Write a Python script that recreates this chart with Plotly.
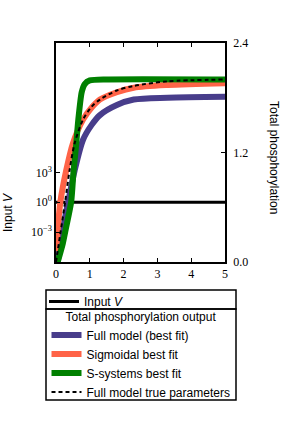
import plotly.graph_objects as go

# ---- data ----
input_t = [0, 5]
input_v = [1, 1]

full_t = [0.05, 0.2, 0.36, 0.55, 0.8, 1.05, 1.3, 1.8, 2.3, 3.3, 5.0]
full_v = [0.0, 0.35, 0.66, 1.0, 1.34, 1.5, 1.61, 1.72, 1.78, 1.80, 1.81]

sig_t = [0.0, 0.13, 0.3, 0.5, 0.8, 1.05, 1.3, 1.8, 2.3, 3.3, 5.0]
sig_v = [0.12, 0.66, 1.0, 1.3, 1.56, 1.69, 1.78, 1.86, 1.91, 1.94, 1.96]

ss_t = [0.05, 0.2, 0.3, 0.45, 0.52, 0.6, 0.66, 0.76, 0.85, 1.0, 1.5, 5.0]
ss_v = [0.0, 0.2, 0.38, 0.66, 1.0, 1.3, 1.56, 1.86, 1.95, 1.99, 2.0, 2.0]

true_t = [0.0, 0.27, 0.4, 0.55, 0.8, 1.05, 1.3, 1.8, 2.3, 3.3, 5.0]
true_v = [0.0, 0.66, 1.0, 1.3, 1.56, 1.70, 1.78, 1.88, 1.93, 1.98, 2.0]

x_ticks = [0, 1, 2, 3, 4, 5]
left_tickvals = [1e-3, 1, 1e3]
left_ticktext = ["10<sup>\u22123</sup>", "10<sup>0</sup>", "10<sup>3</sup>"]
right_tickvals = [0, 1.2, 2.4]
right_ticktext = ["0.0", "1.2", "2.4"]

PURPLE = "#483D8B"
ORANGE = "#FF6347"
GREEN = "#008000"

SANS = "Liberation Sans, Arial, sans-serif"
SERIF = "Liberation Serif, DejaVu Serif, serif"

fig = go.Figure()
fig.add_trace(go.Scatter(x=input_t, y=input_v, mode="lines", name="Input <i>V</i>",
                         line=dict(color="black", width=3), yaxis="y", legend="legend"))
fig.add_trace(go.Scatter(x=full_t, y=full_v, mode="lines", name="Full model (best fit)",
                         line=dict(color=PURPLE, width=6, shape="spline", smoothing=0.8),
                         yaxis="y2", legend="legend2"))
fig.add_trace(go.Scatter(x=sig_t, y=sig_v, mode="lines", name="Sigmoidal best fit",
                         line=dict(color=ORANGE, width=6, shape="spline", smoothing=0.8),
                         yaxis="y2", legend="legend2"))
fig.add_trace(go.Scatter(x=ss_t, y=ss_v, mode="lines", name="S-systems best fit",
                         line=dict(color=GREEN, width=6, shape="spline", smoothing=0.6),
                         yaxis="y2", legend="legend2"))
fig.add_trace(go.Scatter(x=true_t, y=true_v, mode="lines", name="Full model true parameters",
                         line=dict(color="black", width=2, dash="4px,3px", shape="spline", smoothing=0.8),
                         yaxis="y2", legend="legend2"))

# plot area: x 56..225 px, y 43..262 px
W, H = 282, 438
L, R, T, B = 56, 225, 43, 262
pw, ph = R - L, B - T

def px(xp):
    return (xp - L) / pw

def py(yp):
    return (B - yp) / ph

shapes = [
    dict(type="rect", xref="paper", yref="paper", x0=px(46), x1=px(236), y0=py(309), y1=py(290),
         line=dict(color="black", width=1.5)),
    dict(type="rect", xref="paper", yref="paper", x0=px(46), x1=px(236), y0=py(400), y1=py(309),
         line=dict(color="black", width=1.5)),
]

annotations = [
    dict(text="Input <i>V</i>", xref="paper", yref="paper", x=px(8), y=py(213), textangle=-90,
         showarrow=False, font=dict(family=SANS, size=12, color="black"), xanchor="center", yanchor="middle"),
    dict(text="Total phosphorylation", xref="paper", yref="paper", x=px(274), y=py(157), textangle=90,
         showarrow=False, font=dict(family=SANS, size=12, color="black"), xanchor="center", yanchor="middle"),
]

fig.update_layout(
    width=W, height=H,
    margin=dict(l=L, r=W - R, t=T, b=H - B, pad=0, autoexpand=False),
    paper_bgcolor="white", plot_bgcolor="white",
    showlegend=True,
    shapes=shapes, annotations=annotations,
    xaxis=dict(range=[0, 5], tickvals=x_ticks, ticks="inside", ticklen=4, tickwidth=1, tickcolor="black",
               showline=True, linecolor="black", linewidth=1.5, mirror="ticks", showgrid=False, zeroline=False,
               automargin=False, tickfont=dict(family=SERIF, size=12, color="black")),
    yaxis=dict(type="log", range=[-6, 16], tickvals=left_tickvals, ticktext=left_ticktext,
               ticks="inside", ticklen=4, tickwidth=1, tickcolor="black", automargin=False,
               showline=True, linecolor="black", linewidth=1.5, showgrid=False, zeroline=False,
               tickfont=dict(family=SERIF, size=12, color="black")),
    yaxis2=dict(range=[0, 2.4], tickvals=right_tickvals, ticktext=right_ticktext, overlaying="y", side="right",
                ticks="inside", ticklen=4, tickwidth=1, tickcolor="black", automargin=False,
                ticklabelstandoff=4,
                showline=True, linecolor="black", linewidth=1.5, showgrid=False, zeroline=False,
                tickfont=dict(family=SERIF, size=12, color="black")),
    legend=dict(x=px(44), y=py(287), xanchor="left", yanchor="top", bgcolor="rgba(0,0,0,0)",
                borderwidth=0, font=dict(family=SANS, size=12, color="black"), itemwidth=30,
                tracegroupgap=0),
    legend2=dict(x=px(141), y=py(305), xanchor="center", yanchor="top", bgcolor="rgba(0,0,0,0)",
                 borderwidth=0, font=dict(family=SANS, size=12, color="black"), itemwidth=30,
                 title=dict(text="Total phosphorylation output", side="top center",
                            font=dict(family=SANS, size=12, color="black")),
                 tracegroupgap=0),
)

fig.write_html("out.html", post_script="document.body.style.margin='0';",
               config={"displayModeBar": False})
